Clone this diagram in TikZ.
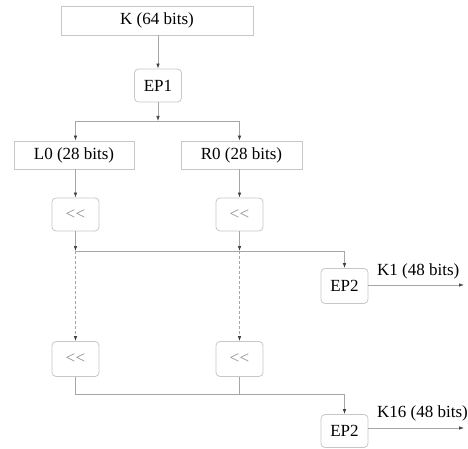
\documentclass[tikz,border=0pt]{standalone}
\usepackage{fontspec}
\setmainfont{Liberation Serif}
\usetikzlibrary{arrows.meta}
\begin{document}
\begin{tikzpicture}[x=1pt,y=-1pt,
  box/.style={draw=black!22, line width=0.8pt, minimum height=29pt, inner sep=0pt, font=\fontsize{17}{20}\selectfont},
  rbox/.style={box, rounded corners=4pt, minimum width=47pt, minimum height=33pt},
  shbox/.style={rbox, text=black!45},
  ln/.style={draw=black!35, line width=0.7pt},
  arr/.style={ln, -{Latex[length=5pt,width=3.5pt,color=black!75]}},
  dsh/.style={arr, dashed, dash pattern=on 3pt off 2pt},
  lbl/.style={font=\fontsize{17}{20}\selectfont, inner sep=0pt, anchor=west}]
\useasboundingbox (0,0) rectangle (468,449);
\node[box, minimum width=192pt] (K) at (157,20.5) {K (64 bits)};
\node[rbox] (EP1) at (158,85.5) {EP1};
\node[box, minimum width=120pt, minimum height=28pt] (L0) at (74,155) {L0 (28 bits)};
\node[box, minimum width=121pt, minimum height=28pt] (R0) at (241.5,155) {R0 (28 bits)};
\node[shbox] (s1L) at (75.5,214.5) {<\kern0.5pt<};
\node[shbox] (s1R) at (239.5,214.5) {<\kern0.5pt<};
\node[rbox, minimum height=35pt] (E2a) at (344.5,286) {EP2};
\node[shbox, minimum height=35pt] (s2L) at (75.5,359) {<\kern0.5pt<};
\node[shbox, minimum height=35pt] (s2R) at (239.5,359) {<\kern0.5pt<};
\node[rbox] (E2b) at (344.5,431) {EP2};
\node[lbl] (k1) at (377,271) {K1 (48 bits)};
\node[lbl] (k16) at (377,413) {K16 (48 bits)};
\coordinate (j0) at (158,121);
\coordinate (j0L) at (75.5,121);
\coordinate (j0R) at (239.5,121);
\coordinate (j1L) at (75.5,251);
\coordinate (j1R) at (239.5,251);
\coordinate (j1E) at (344.5,251);
\coordinate (j2L) at (75.5,394);
\coordinate (j2R) at (239.5,394);
\coordinate (j2E) at (344.5,394);
\coordinate (o1) at (464,285);
\coordinate (o2) at (464,428);
% top
\draw[arr] (K.south -| EP1) -- (EP1.north);
\draw[arr] (EP1.south) -- (j0);
\draw[ln] (j0L) -- (j0R);
\draw[arr] (j0L) -- (j0L |- L0.north);
\draw[arr] (j0R) -- (j0R |- R0.north);
\draw[arr] (L0.south -| s1L) -- (s1L.north);
\draw[arr] (R0.south -| s1R) -- (s1R.north);
% round 1
\draw[arr] (s1L.south) -- (j1L);
\draw[arr] (s1R.south) -- (j1R);
\draw[ln] (j1L) -- (j1E);
\draw[arr] (j1E) -- (E2a.north);
\draw[arr] (E2a.east |- o1) -- (o1);
\draw[dsh] (j1L) -- (s2L.north);
\draw[dsh] (j1R) -- (s2R.north);
% round 16
\draw[ln] (s2L.south) -- (j2L) -- (j2E);
\draw[ln] (s2R.south) -- (j2R);
\draw[arr] (j2E) -- (E2b.north);
\draw[arr] (E2b.east |- o2) -- (o2);
\end{tikzpicture}
\end{document}
